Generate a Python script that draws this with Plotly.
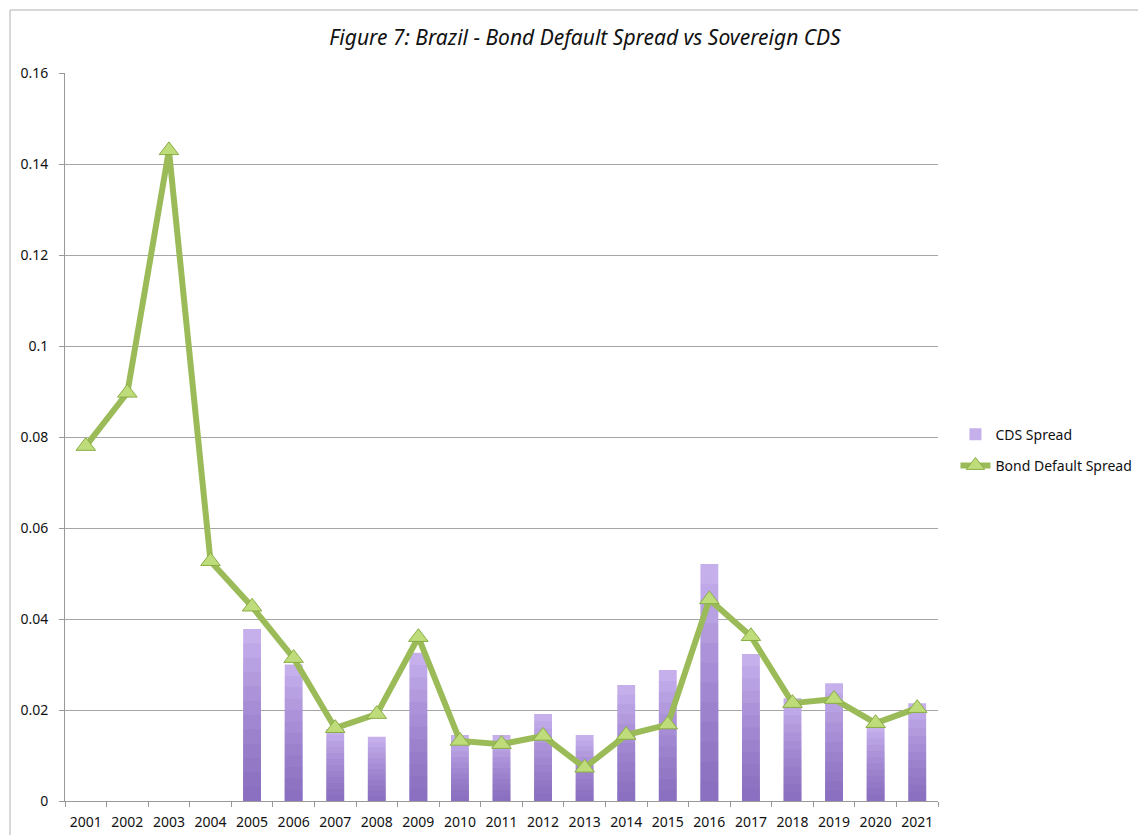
import plotly.graph_objects as go

years = [str(y) for y in range(2001, 2022)]
cds_spread = [None, None, None, None, 0.0378, 0.0300, 0.0158, 0.0141, 0.0326, 0.0145,
              0.0145, 0.0191, 0.0145, 0.0255, 0.0288, 0.0521, 0.0323, 0.0226, 0.0259, 0.0165, 0.0215]
bond_default_spread = [0.0780, 0.0897, 0.1430, 0.0527, 0.0427, 0.0314, 0.0160, 0.0191, 0.0360, 0.0132,
                       0.0125, 0.0143, 0.0073, 0.0145, 0.0168, 0.0443, 0.0362, 0.0215, 0.0224, 0.0171, 0.0204]
y_ticks = [0, 0.02, 0.04, 0.06, 0.08, 0.1, 0.12, 0.14, 0.16]

FONT = "Noto Sans"
fig = go.Figure()

fig.add_trace(go.Bar(x=years, y=cds_spread, name="CDS Spread", legendgroup="a",
                     marker=dict(color="#C6B0EC", line=dict(width=0)), width=0.43))
# gradient shading (darker toward the bottom of each bar)
steps = 12
for k in range(1, steps):
    f = 1 - k / steps
    fig.add_trace(go.Bar(x=years, y=[None if v is None else v * f for v in cds_spread],
                         showlegend=False, hoverinfo="skip", legendgroup="a",
                         marker=dict(color="rgba(90,50,145,0.06)", line=dict(width=0)), width=0.43))

fig.add_trace(go.Scatter(x=years, y=bond_default_spread, name="Bond Default Spread", legendgroup="b",
                         mode="lines+markers",
                         line=dict(color="#9BBB59", width=6),
                         marker=dict(symbol="triangle-up", size=17, color="#BEDC7A",
                                     line=dict(color="#8AAE45", width=1))))

# page body has an 8px margin; compensate so the plot area lands at x 65..938, y 73..801
fig.update_layout(
    width=1146, height=835,
    barmode="overlay",
    plot_bgcolor="white", paper_bgcolor="white",
    margin=dict(l=57, r=216, t=65, b=42),
    font=dict(family=FONT, size=14, color="#111"),
    title=dict(text="<i>Figure 7: Brazil - Bond Default Spread vs Sovereign CDS</i>",
               x=577 / 1146, xanchor="center", y=1 - 30 / 835, yanchor="middle", yref="container",
               font=dict(family=FONT, size=21, color="#111")),
    legend=dict(x=1.02, y=0.482, xanchor="left", yanchor="middle",
                font=dict(family=FONT, size=14, color="#111"), traceorder="grouped",
                bgcolor="rgba(0,0,0,0)", tracegroupgap=10),
    showlegend=True,
)
fig.update_xaxes(type="category", range=[-0.5, len(years) - 0.5], showgrid=False, showline=True,
                 linecolor="#999", linewidth=1,
                 ticks="outside", tickson="boundaries", ticklen=5, tickcolor="#999",
                 tickangle=0, automargin=False, ticklabelstandoff=8, tickfont=dict(size=14))
fig.update_yaxes(range=[0, 0.16], tickvals=y_ticks, showgrid=True, gridcolor="#A6A6A6", gridwidth=1,
                 showline=True, linecolor="#999", linewidth=1, ticks="outside", ticklen=5,
                 tickcolor="#999", zeroline=False, automargin=False, ticklabelstandoff=8,
                 tickfont=dict(size=14))

# outer chart border (top and left visible)
fig.add_shape(type="line", xref="paper", yref="paper", x0=-0.063, x1=1.3, y0=(801 - 10) / 728, y1=(801 - 10) / 728,
              line=dict(color="#B0B0B0", width=1))
fig.add_shape(type="line", xref="paper", yref="paper", x0=-0.063, x1=-0.063, y0=-0.1, y1=(801 - 10) / 728,
              line=dict(color="#B0B0B0", width=1))

fig.write_html("out.html")
